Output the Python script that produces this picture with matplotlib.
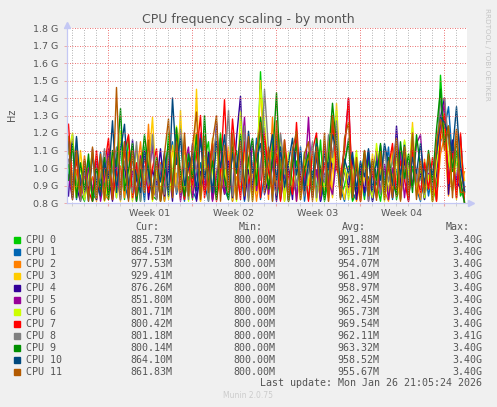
import datetime as dt

import matplotlib
matplotlib.use("Agg")
import matplotlib.dates as mdates
import matplotlib.pyplot as plt
from matplotlib.lines import Line2D
from matplotlib.transforms import blended_transform_factory

# ---- legend table -------------------------------------------------------
cpu_names = [f"CPU {n}" for n in range(12)]
cpu_colors = ["#00CC00", "#0066B3", "#FF8000", "#FFCC00", "#330099", "#990099",
              "#CCFF00", "#FF0000", "#808080", "#008F00", "#00487D", "#B35A00"]
cur_vals = ["885.73M", "864.51M", "977.53M", "929.41M", "876.26M", "851.80M",
            "801.71M", "800.42M", "801.18M", "800.14M", "864.10M", "861.83M"]
min_vals = ["800.00M"] * 12
avg_vals = ["991.88M", "965.71M", "954.07M", "961.49M", "958.97M", "962.45M",
            "965.73M", "969.54M", "962.11M", "963.32M", "958.52M", "955.67M"]
max_vals = ["3.40G"] * 8 + ["3.41G"] + ["3.40G"] * 3
last_update = "Last update: Mon Jan 26 21:05:24 2026"

# ---- samples (MHz), one every 8 hours ------------------------------------
sample_start = dt.datetime(2025, 12, 25, 18, 0)
sample_step = dt.timedelta(hours=8)

cpu0 = [1020, 830, 1110, 860, 810, 990, 850, 820, 1060, 880,
        1090, 840, 960, 1150, 820, 1180, 870, 1000, 810, 1120,
        960, 840, 820, 1020, 810, 1200, 900, 1080, 1240, 830,
        950, 820, 1120, 880, 1050, 1150, 820, 940, 1200, 850,
        1000, 810, 1100, 890, 1170, 830, 990, 860, 1550, 1050,
        880, 1150, 820, 960, 1120, 810, 920, 1040, 840, 1090,
        820, 980, 870, 1160, 810, 940, 1250, 1060, 830, 900,
        1010, 810, 860, 970, 820, 1060, 850, 920, 810, 1000,
        850, 1080, 820, 930, 1150, 830, 1010, 870, 960, 820,
        1040, 810, 900, 1530, 1150, 1020, 870, 1100, 840, 886]
cpu1 = [930, 1150, 820, 960, 840, 1040, 810, 900, 1090, 820,
        870, 1010, 830, 1180, 910, 820, 1100, 850, 990, 810,
        1120, 830, 880, 980, 820, 1020, 1150, 850, 950, 810,
        1090, 870, 820, 1030, 910, 810, 1130, 840, 1000, 880,
        820, 1110, 860, 980, 810, 1060, 890, 1170, 820, 950,
        1100, 810, 1180, 870, 1010, 820, 930, 850, 1120, 810,
        1000, 860, 1080, 810, 910, 1030, 840, 1140, 880, 810,
        960, 860, 820, 1040, 840, 950, 810, 1090, 860, 930,
        1120, 820, 990, 850, 1060, 820, 1100, 880, 810, 1020,
        840, 970, 820, 1150, 1220, 1350, 1050, 830, 1180, 865]
cpu2 = [1180, 840, 990, 820, 1070, 880, 950, 810, 1030, 850,
        820, 1100, 900, 1010, 830, 1090, 820, 960, 1150, 860,
        1250, 820, 910, 1030, 810, 1110, 860, 970, 820, 1130,
        880, 1050, 1200, 810, 990, 850, 1140, 820, 1020, 900,
        1090, 810, 950, 870, 1160, 830, 1030, 810, 980, 1120,
        820, 1290, 880, 1050, 810, 990, 860, 1180, 820, 950,
        1070, 830, 970, 870, 1120, 810, 1010, 1220, 840, 1000,
        860, 1040, 810, 920, 1090, 820, 990, 840, 1030, 870,
        810, 960, 1100, 830, 1000, 860, 1150, 920, 820, 1050,
        880, 990, 810, 1080, 1180, 840, 1030, 1220, 890, 978]
cpu3 = [1160, 950, 830, 1100, 880, 1000, 810, 1070, 860, 980,
        830, 1050, 960, 810, 1120, 880, 990, 820, 1080, 900,
        1010, 1290, 850, 950, 1070, 820, 1130, 870, 1330, 830,
        1000, 860, 1450, 810, 1040, 920, 1170, 840, 990, 880,
        1120, 820, 1010, 900, 1090, 810, 980, 860, 1500, 940,
        1030, 850, 1120, 820, 990, 880, 1070, 810, 970, 860,
        920, 1100, 810, 1010, 870, 1160, 830, 1370, 940, 820,
        1000, 860, 1060, 810, 950, 880, 1080, 830, 990, 900,
        850, 1120, 930, 820, 1040, 870, 1260, 840, 980, 880,
        1060, 810, 950, 1160, 1220, 880, 1050, 820, 1100, 929]
cpu4 = [840, 1190, 890, 810, 1040, 850, 1110, 820, 940, 1060,
        960, 810, 1080, 870, 1020, 830, 1160, 930, 860, 1100,
        820, 990, 900, 1110, 840, 1010, 810, 1190, 920, 1050,
        850, 1140, 810, 980, 870, 1090, 820, 1260, 930, 860,
        1040, 830, 1170, 1410, 820, 990, 880, 1100, 1270, 850,
        940, 1050, 810, 1120, 870, 1010, 820, 1160, 950, 850,
        1020, 830, 1100, 810, 970, 880, 1070, 1240, 830, 990,
        890, 1060, 820, 990, 860, 1100, 810, 940, 1130, 850,
        1030, 830, 1240, 900, 1050, 810, 1100, 870, 970, 820,
        1060, 860, 960, 1290, 1400, 850, 1160, 930, 880, 876]
cpu5 = [960, 820, 1130, 900, 830, 1000, 870, 1050, 810, 940,
        1110, 880, 1010, 820, 1150, 860, 980, 810, 1070, 890,
        940, 1130, 820, 990, 880, 1060, 840, 1220, 810, 1020,
        1120, 830, 970, 1200, 870, 1050, 810, 960, 1130, 850,
        920, 1100, 820, 1020, 1290, 840, 1160, 870, 1000, 1230,
        850, 1010, 1130, 820, 960, 880, 1080, 810, 1030, 910,
        1290, 850, 990, 820, 1140, 920, 850, 1050, 940, 1120,
        1400, 830, 980, 880, 1050, 810, 960, 1110, 860, 1020,
        820, 1000, 880, 1090, 830, 1030, 900, 1140, 1190, 840,
        970, 880, 1070, 1240, 1370, 930, 1120, 870, 1020, 852]
cpu6 = [1080, 1200, 860, 1010, 820, 930, 1100, 830, 980, 810,
        920, 1030, 830, 1210, 880, 1000, 810, 1130, 850, 960,
        1120, 810, 980, 870, 1050, 830, 970, 1240, 860, 1070,
        810, 990, 1170, 880, 1060, 820, 980, 1130, 850, 1020,
        880, 1150, 810, 1320, 900, 1060, 810, 980, 1450, 1270,
        950, 860, 1060, 1170, 810, 1090, 890, 1000, 820, 1050,
        900, 1080, 820, 970, 880, 1120, 1030, 1330, 860, 1010,
        820, 950, 1100, 850, 1020, 910, 830, 1140, 960, 810,
        990, 880, 1060, 820, 1160, 950, 1230, 860, 1020, 830,
        960, 810, 1020, 1190, 1280, 1060, 880, 1030, 1150, 802]
cpu7 = [1250, 890, 1050, 820, 960, 870, 810, 1100, 840, 1010,
        1170, 820, 980, 890, 1090, 1190, 830, 1030, 880, 1080,
        860, 1000, 1110, 810, 940, 1050, 870, 1170, 960, 820,
        1030, 900, 1070, 1300, 830, 1000, 1140, 810, 980, 1390,
        880, 1280, 1020, 820, 1150, 910, 1000, 1100, 830, 1190,
        980, 870, 1080, 810, 1160, 950, 850, 1260, 890, 1010,
        810, 1100, 1200, 870, 1030, 830, 1270, 990, 950, 1100,
        1400, 870, 1020, 810, 1080, 900, 990, 830, 1050, 890,
        1000, 1140, 840, 1040, 930, 810, 1100, 970, 860, 1030,
        880, 1060, 810, 1190, 1310, 910, 1100, 830, 1200, 800]
cpu8 = [1050, 860, 1170, 810, 990, 900, 1070, 840, 950, 1110,
        870, 1000, 1120, 820, 1040, 930, 860, 1150, 810, 1010,
        900, 1190, 820, 1020, 850, 1090, 950, 860, 1220, 1010,
        820, 1130, 990, 890, 1180, 810, 1040, 1210, 880, 1000,
        1330, 840, 1070, 920, 1240, 810, 1020, 1130, 930, 1450,
        1100, 920, 850, 1200, 1000, 820, 1120, 900, 1040, 840,
        990, 1150, 830, 1010, 920, 1190, 1060, 1270, 870, 1030,
        1170, 840, 990, 890, 1060, 810, 1030, 940, 850, 1110,
        920, 1040, 1170, 820, 1010, 880, 1180, 920, 1050, 850,
        1020, 900, 1090, 1380, 1400, 1150, 990, 1180, 900, 801]
cpu9 = [930, 1140, 830, 1030, 870, 1080, 810, 1000, 880, 1060,
        820, 1100, 1010, 1340, 870, 990, 1140, 810, 960, 1190,
        1000, 860, 1060, 810, 980, 1140, 880, 1230, 970, 840,
        1080, 940, 1190, 840, 1300, 900, 1040, 820, 1170, 940,
        820, 1120, 970, 1190, 860, 1050, 1170, 900, 1290, 1080,
        880, 1040, 1430, 930, 1100, 810, 1020, 1140, 860, 990,
        1090, 870, 1170, 990, 820, 1070, 1370, 1120, 900, 1020,
        1150, 820, 1010, 900, 1100, 850, 1040, 930, 1140, 860,
        1060, 920, 850, 1150, 940, 1080, 860, 1190, 1000, 880,
        1100, 920, 1220, 1450, 1130, 1240, 980, 1160, 930, 800]
cpu10 = [1150, 830, 1180, 880, 1010, 810, 1080, 920, 840, 1030,
         940, 1270, 860, 1100, 1250, 880, 1050, 950, 860, 1090,
         970, 850, 1030, 920, 1090, 840, 1400, 1020, 1170, 900,
         1000, 1090, 870, 1170, 940, 1060, 860, 1150, 1000, 1190,
         910, 1080, 990, 1160, 880, 1210, 970, 1050, 1140, 920,
         1060, 1190, 930, 1120, 890, 1030, 1170, 960, 1090, 870,
         1040, 940, 1140, 900, 1080, 990, 1190, 1110, 890, 1050,
         970, 1090, 880, 1030, 950, 1110, 870, 1040, 930, 1140,
         1020, 900, 1100, 960, 1130, 890, 1060, 970, 1140, 910,
         1040, 960, 1080, 1290, 1260, 1190, 1090, 1350, 1010, 864]
cpu11 = [1180, 820, 1100, 840, 1050, 810, 1120, 830, 1080, 815,
         1060, 820, 1460, 850, 1150, 810, 1100, 840, 1050, 860,
         1160, 820, 1040, 810, 1080, 1280, 830, 1150, 860, 1200,
         840, 1120, 1320, 820, 1180, 860, 1150, 1300, 810, 1130,
         860, 1200, 820, 1150, 840, 1180, 810, 1100, 1260, 860,
         1120, 810, 1270, 840, 1160, 810, 1100, 1210, 820, 1080,
         1150, 810, 1120, 840, 1200, 810, 1300, 1100, 820, 1170,
         1260, 830, 1060, 810, 1100, 840, 1050, 815, 1090, 820,
         1040, 830, 1170, 810, 1120, 840, 1200, 820, 1040, 860,
         1080, 810, 1150, 1280, 1100, 1240, 830, 1220, 860, 862]
series = [cpu0, cpu1, cpu2, cpu3, cpu4, cpu5, cpu6, cpu7, cpu8, cpu9, cpu10, cpu11]

# ---- helpers -------------------------------------------------------------
W, H = 497, 407


def fx(px):
    return px / W


def fy(py):
    return 1 - py / H


text_grey = "#555555"
axis_blue = "#C4C8F4"
mgrid = (0.9, 0.25, 0.25, 0.45)
grid = (0.6, 0.6, 0.6, 0.45)

fig = plt.figure(figsize=(W / 100, H / 100), dpi=100, facecolor="#F0F0F0")
ax = fig.add_axes([fx(67), fy(203), 400 / W, 175 / H])
ax.set_facecolor("white")

times = [sample_start + i * sample_step for i in range(len(cpu0))]
for vals, col in zip(series, cpu_colors):
    ax.plot(times, [v / 1000 for v in vals], color=col, lw=1.0, zorder=2)

x0 = dt.datetime(2025, 12, 25, 15, 0)
x1 = x0 + dt.timedelta(hours=800)
ax.set_xlim(x0, x1)
ax.set_ylim(0.8, 1.8)

ax.set_yticks([0.8 + 0.1 * k for k in range(11)])
ax.set_yticklabels([f"{0.8 + 0.1 * k:.1f} G" for k in range(11)])
ax.xaxis.set_major_locator(mdates.WeekdayLocator(byweekday=mdates.MO))
ax.xaxis.set_minor_locator(mdates.DayLocator())
ax.xaxis.set_major_formatter(plt.NullFormatter())

ax.tick_params(axis="y", length=2, width=0.6, color=mgrid, pad=4.3,
               labelsize=6.8, labelcolor=text_grey)
ax.tick_params(axis="x", which="major", length=2, width=0.8, color=mgrid)
ax.tick_params(axis="x", which="minor", length=2, width=0.6, color=grid)

# rrdtool paints the grid over the data
ax.set_axisbelow(False)
ax.grid(True, axis="x", which="minor", color=grid, lw=0.6, ls=(0, (1, 2)), zorder=3)
ax.grid(True, axis="x", which="major", color=mgrid, lw=0.6, ls=(0, (1, 2)), zorder=3)
ax.grid(True, axis="y", which="major", color=mgrid, lw=0.6, ls=(0, (1, 2)), zorder=3)

for side in ("top", "right", "left", "bottom"):
    ax.spines[side].set_visible(False)

# axes with arrows
ax.add_line(Line2D([0, 0], [0, 1.03], transform=ax.transAxes, color=axis_blue,
                   lw=0.9, clip_on=False, zorder=5))
ax.add_line(Line2D([0, 1.008], [0, 0], transform=ax.transAxes, color=axis_blue,
                   lw=0.9, clip_on=False, zorder=5))
ax.plot([0], [1.02], marker="^", ms=5, color=axis_blue, transform=ax.transAxes,
        clip_on=False, zorder=5)
ax.plot([1.011], [0], marker=">", ms=5, color=axis_blue, transform=ax.transAxes,
        clip_on=False, zorder=5)

# week labels, centred inside each week
week_trans = blended_transform_factory(ax.transData, fig.transFigure)
monday = dt.datetime(2025, 12, 29)
while monday < x1:
    mid = monday + dt.timedelta(days=3, hours=12)
    if x0 < mid < x1:
        ax.text(mdates.date2num(mid), fy(213), f"Week {mid.strftime('%V')}",
                transform=week_trans, ha="center", va="center",
                fontsize=6.8, color=text_grey)
    monday += dt.timedelta(days=7)

# titles
fig.text(fx(248), fy(19), "CPU frequency scaling - by month", ha="center",
         va="center", fontsize=9, color=text_grey)
fig.text(fx(12), fy(115), "Hz", rotation=90, ha="center", va="center",
         fontsize=7, color=text_grey)
fig.text(fx(487), fy(54), "RRDTOOL / TOBI OETIKER", rotation=270, ha="center",
         va="center", fontsize=5.2, color="#C4C4C4")

# legend table
mono = dict(family="DejaVu Sans Mono", fontsize=7.2, color=text_grey, va="center")
for label, right in (("Cur:", 159), ("Min:", 263), ("Avg:", 366), ("Max:", 470)):
    fig.text(fx(right), fy(227), label, ha="right", **mono)
for i, name in enumerate(cpu_names):
    y = 240 + 12 * i
    fig.patches.append(plt.Rectangle((fx(14), fy(y + 3)), 6 / W, 6 / H,
                                     transform=fig.transFigure, color=cpu_colors[i]))
    fig.text(fx(26), fy(y), name, ha="left", **mono)
    fig.text(fx(172), fy(y), cur_vals[i], ha="right", **mono)
    fig.text(fx(275), fy(y), min_vals[i], ha="right", **mono)
    fig.text(fx(379), fy(y), avg_vals[i], ha="right", **mono)
    fig.text(fx(482), fy(y), max_vals[i], ha="right", **mono)
fig.text(fx(482), fy(383), last_update, ha="right", **mono)
fig.text(fx(248), fy(396), "Munin 2.0.75", ha="center", va="center",
         fontsize=5.5, color="#CCCCCC")

fig.savefig("out.png", dpi=100, facecolor=fig.get_facecolor())
